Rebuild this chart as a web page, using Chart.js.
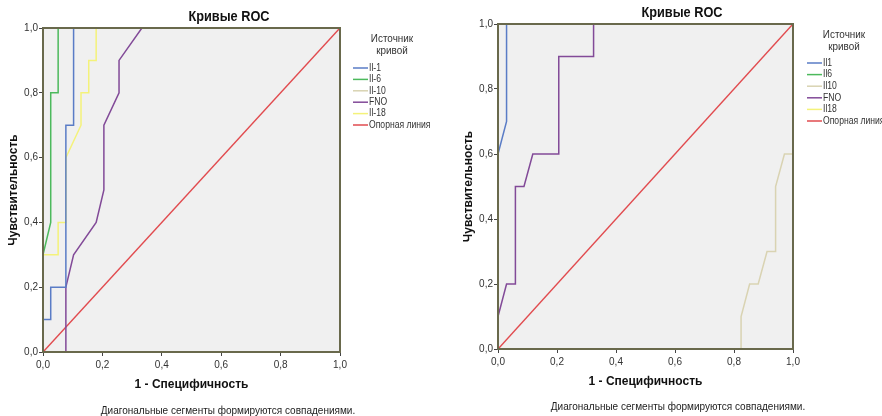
<!DOCTYPE html>
<html>
<head>
<meta charset="utf-8">
<script src="https://cdn.jsdelivr.net/npm/chart.js@4.4.1/dist/chart.umd.min.js"></script>
<style>
    body { margin: 0; background: #fff; width: 882px; height: 416px; overflow: hidden; position: relative; }
    .box { position: absolute; top: 0; width: 441px; height: 416px; }
</style>
</head>
<body>
<div class="box" style="left:0"><canvas id="roc-left" width="441" height="416"></canvas></div>
<div class="box" style="left:441px"><canvas id="roc-right" width="441" height="416"></canvas></div>
<script>
// подписи осей / делений
const axisTicks = [0, 0.2, 0.4, 0.6, 0.8, 1.0];
const chartTitle = 'Кривые ROC';
const xTitle = '1 - Специфичность';
const yTitle = 'Чувствительность';
const footNote = 'Диагональные сегменты формируются совпадениями.';
const legendHeader = ['Источник', 'кривой'];

// левый график: точки кривых [1 - специфичность, чувствительность]
const leftNames = ['Il-1', 'Il-6', 'Il-10', 'FNO', 'Il-18', 'Опорная линия'];
const leftIl1 = [[0, 0], [0, 0.1], [0.026, 0.1], [0.026, 0.2], [0.077, 0.2], [0.077, 0.7], [0.103, 0.7], [0.103, 1], [1, 1]];
const leftIl6 = [[0, 0], [0, 0.3], [0.026, 0.4], [0.026, 0.8], [0.051, 0.8], [0.051, 1], [1, 1]];
const leftIl10 = [[0, 0], [0, 1], [1, 1]];
const leftFno = [[0, 0], [0.077, 0], [0.077, 0.2], [0.103, 0.3], [0.179, 0.4], [0.205, 0.5], [0.205, 0.7], [0.256, 0.8], [0.256, 0.9], [0.333, 1], [1, 1]];
const leftIl18 = [[0, 0], [0, 0.3], [0.051, 0.3], [0.051, 0.4], [0.077, 0.4], [0.077, 0.6], [0.128, 0.7], [0.128, 0.8], [0.154, 0.8], [0.154, 0.9], [0.179, 0.9], [0.179, 1], [1, 1]];
const leftRef = [[0, 0], [1, 1]];

// правый график
const rightNames = ['Il1', 'Il6', 'Il10', 'FNO', 'Il18', 'Опорная линия'];
const rightIl1 = [[0, 0], [0, 0.6], [0.029, 0.7], [0.029, 1], [1, 1]];
const rightIl6 = [[0, 0], [0, 1], [1, 1]];
const rightIl10 = [[0, 0], [0.824, 0], [0.824, 0.1], [0.853, 0.2], [0.882, 0.2], [0.912, 0.3], [0.941, 0.3], [0.941, 0.5], [0.971, 0.6], [1, 0.6], [1, 1]];
const rightFno = [[0, 0], [0, 0.1], [0.029, 0.2], [0.059, 0.2], [0.059, 0.5], [0.088, 0.5], [0.118, 0.6], [0.206, 0.6], [0.206, 0.9], [0.324, 0.9], [0.324, 1], [1, 1]];
const rightIl18 = [[0, 0], [0, 1], [1, 1]];
const rightRef = [[0, 0], [1, 1]];

const lineColors = ['#5a7cc6', '#4cb95c', '#d9d3b2', '#824a98', '#f4f27a', '#e14b4f'];
const frameColor = '#69694c';
const FONT = '"Liberation Sans", Arial, sans-serif';

Chart.defaults.font.family = FONT;

const fmt = v => Number(v).toFixed(1).replace('.', ',');

// текст чуть уже обычного, как в SPSS
function narrowText(ctx, text, x, y, k) {
    ctx.fillText(text, x, y, ctx.measureText(text).width * k);
}

// фон, рамка, заголовок, подпись и легенда в стиле SPSS
const spssDecor = {
    id: 'spssDecor',
    beforeDatasetsDraw(chart) {
        const a = chart.chartArea, ctx = chart.ctx;
        ctx.save();
        ctx.fillStyle = '#f0f0f0';
        ctx.fillRect(a.left, a.top, a.right - a.left, a.bottom - a.top);
        ctx.restore();
    },
    afterDatasetsDraw(chart) {
        const a = chart.chartArea, ctx = chart.ctx;
        ctx.save();
        ctx.strokeStyle = frameColor;
        ctx.lineWidth = 2;
        ctx.strokeRect(a.left, a.top, a.right - a.left, a.bottom - a.top);
        ctx.restore();
    },
    afterDraw(chart, args, o) {
        const ctx = chart.ctx;
        ctx.save();
        ctx.textAlign = 'center';
        ctx.textBaseline = 'middle';
        ctx.fillStyle = '#111';
        ctx.font = 'bold 14px ' + FONT;
        narrowText(ctx, chartTitle, o.titleX, o.titleY, 0.91);
        ctx.fillStyle = '#222';
        ctx.font = '11px ' + FONT;
        narrowText(ctx, footNote, o.noteX, o.noteY, 0.91);

        // легенда
        ctx.fillStyle = '#333';
        ctx.font = '11px ' + FONT;
        legendHeader.forEach((t, i) => narrowText(ctx, t, o.legX, o.legY + i * 12, 0.9));
        ctx.textAlign = 'left';
        ctx.font = '10px ' + FONT;
        chart.data.datasets.forEach((ds, i) => {
            const y = o.itemY + i * o.itemStep;
            ctx.strokeStyle = ds.borderColor;
            ctx.lineWidth = 1.5;
            ctx.beginPath();
            ctx.moveTo(o.sampleX, y);
            ctx.lineTo(o.sampleX + 15, y);
            ctx.stroke();
            ctx.fillStyle = '#333';
            narrowText(ctx, ds.label, o.sampleX + 16, y, 0.86);
        });
        ctx.restore();
    }
};

function rocChart(id, names, curves, L) {
    const datasets = curves.map((pts, i) => ({
        label: names[i],
        data: pts.map(p => ({ x: p[0], y: p[1] })),
        showLine: true,
        borderColor: lineColors[i],
        borderWidth: 1.5,
        pointRadius: 0,
        fill: false,
        tension: 0
    }));
    const tickSet = s => { s.ticks = axisTicks.map(v => ({ value: v })); };
    return new Chart(document.getElementById(id), {
        type: 'scatter',
        data: { datasets },
        plugins: [spssDecor],
        options: {
            responsive: false,
            animation: false,
            layout: { padding: L.padding },
            plugins: {
                legend: { display: false },
                tooltip: { enabled: false },
                spssDecor: L.decor
            },
            scales: {
                x: {
                    type: 'linear', min: 0, max: 1,
                    afterBuildTicks: tickSet,
                    afterFit: s => { s.height = 44; },
                    ticks: { callback: fmt, color: '#333', font: { size: 10 }, padding: 3, maxRotation: 0 },
                    grid: { drawOnChartArea: false, tickLength: 4, tickColor: '#444' },
                    border: { display: false },
                    title: { display: true, text: xTitle, color: '#111', font: { size: 12, weight: 'bold' }, padding: { top: 0, bottom: 4 } }
                },
                y: {
                    type: 'linear', min: 0, max: 1,
                    afterBuildTicks: tickSet,
                    afterFit: s => { s.width = L.yWidth; },
                    ticks: { callback: fmt, color: '#333', font: { size: 10 }, padding: 1 },
                    grid: { drawOnChartArea: false, tickLength: 4, tickColor: '#444' },
                    border: { display: false },
                    title: { display: true, text: yTitle, color: '#111', font: { size: 12, weight: 'bold' }, padding: { top: L.yTitlePad, bottom: 0 } }
                }
            }
        }
    });
}

rocChart('roc-left', leftNames, [leftIl1, leftIl6, leftIl10, leftFno, leftIl18, leftRef], {
    padding: { left: 0, top: 28, right: 101, bottom: 20 },
    yWidth: 43,
    yTitlePad: 6,
    decor: { titleX: 229, titleY: 17, noteX: 228, noteY: 411, legX: 392, legY: 39, itemY: 68, itemStep: 11.4, sampleX: 353 }
});

rocChart('roc-right', rightNames, [rightIl1, rightIl6, rightIl10, rightFno, rightIl18, rightRef], {
    padding: { left: 0, top: 24, right: 89, bottom: 23 },
    yWidth: 57,
    yTitlePad: 20,
    decor: { titleX: 241, titleY: 13, noteX: 237, noteY: 407, legX: 403, legY: 35, itemY: 63, itemStep: 11.6, sampleX: 366 }
});
</script>
</body>
</html>
